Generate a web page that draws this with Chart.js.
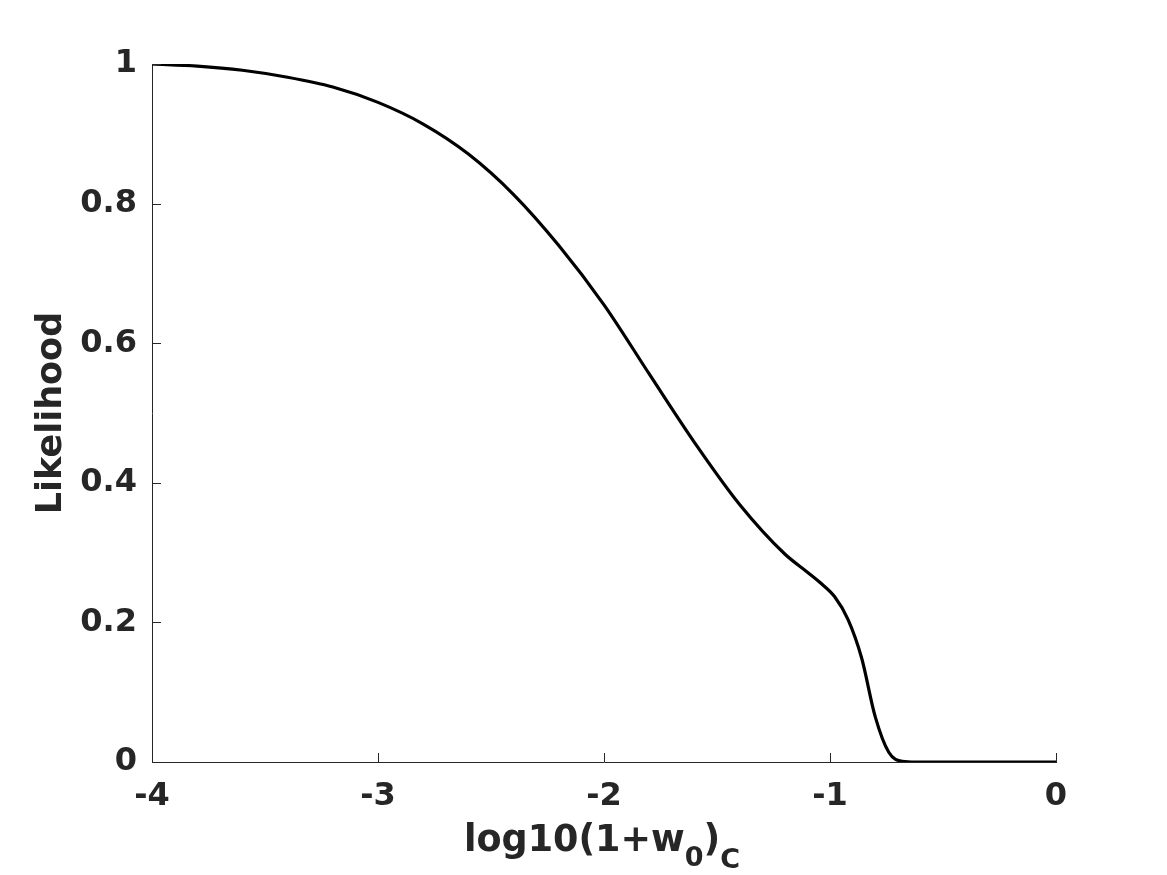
<!DOCTYPE html>
<html>
<head>
<meta charset="utf-8">
<script src="https://cdn.jsdelivr.net/npm/chart.js@4/dist/chart.umd.min.js"></script>
<style>
  html, body { margin: 0; padding: 0; background: #fff; }
  #wrap { width: 1167px; height: 875px; }
</style>
</head>
<body>
<div id="wrap"><canvas id="chart" width="1167" height="875"></canvas></div>
<script>
// values
var xs = [-4, -3.8, -3.6, -3.4, -3.2, -3.0, -2.8, -2.6, -2.4, -2.2, -2.0, -1.8, -1.6, -1.4, -1.2,
  -1.1, -1.04, -0.98, -0.92, -0.86, -0.80, -0.74, -0.68, -0.62, -0.5, 0];
var likelihood = [1.0, 0.997, 0.991, 0.981, 0.967, 0.945, 0.914, 0.871, 0.813, 0.740, 0.655, 0.556, 0.458, 0.369, 0.298,
  0.272, 0.256, 0.237, 0.204, 0.149, 0.065, 0.014, 0.001, 0, 0, 0];

var axisColor = '#262626',
  fontFamily = '"DejaVu Sans", sans-serif';

// inward tick marks plus the x title with its subscripts
var axesExtras = {
  id: 'axesExtras',
  afterDraw: function(chart) {
    var ctx = chart.ctx,
      area = chart.chartArea,
      xScale = chart.scales.x,
      yScale = chart.scales.y;

    ctx.save();
    ctx.strokeStyle = axisColor;
    ctx.lineWidth = 1;
    ctx.beginPath();
    yScale.ticks.forEach(function(t) {
      var py = Math.round(yScale.getPixelForValue(t.value)) + 0.5;
      ctx.moveTo(area.left, py);
      ctx.lineTo(area.left + 9, py);
    });
    xScale.ticks.forEach(function(t) {
      var px = Math.round(xScale.getPixelForValue(t.value)) + 0.5;
      ctx.moveTo(px, area.bottom);
      ctx.lineTo(px, area.bottom - 9);
    });
    ctx.stroke();

    var parts = [
      { text: 'log10(1+w', size: 36.5, dy: 0 },
      { text: '0', size: 27, dy: 15 },
      { text: ')', size: 36.5, dy: 0 },
      { text: 'C', size: 27, dy: 17 }
    ];
    var total = 0;
    parts.forEach(function(p) {
      ctx.font = 'bold ' + p.size + 'px ' + fontFamily;
      p.w = ctx.measureText(p.text).width;
      total += p.w;
    });
    var cx = (area.left + area.right) / 2 - 2,
      x = cx - total / 2,
      base = 851;
    ctx.fillStyle = axisColor;
    ctx.textBaseline = 'alphabetic';
    ctx.textAlign = 'left';
    parts.forEach(function(p) {
      ctx.font = 'bold ' + p.size + 'px ' + fontFamily;
      ctx.fillText(p.text, x, base + p.dy);
      x += p.w;
    });
    ctx.restore();
  }
};

var ctx = document.getElementById('chart').getContext('2d');

new Chart(ctx, {
  type: 'line',
  data: {
    datasets: [{
      data: xs.map(function(x, i) { return { x: x, y: likelihood[i] }; }),
      borderColor: '#000000',
      borderWidth: 3.2,
      pointRadius: 0,
      fill: false,
      cubicInterpolationMode: 'monotone'
    }]
  },
  options: {
    responsive: false,
    animation: false,
    layout: { padding: { top: 64, right: 111, left: 0, bottom: 0 } },
    plugins: {
      legend: { display: false },
      tooltip: { enabled: false }
    },
    scales: {
      x: {
        type: 'linear',
        min: -4,
        max: 0,
        afterFit: function(scale) { scale.height = 113; },
        ticks: {
          stepSize: 1,
          color: axisColor,
          padding: 15,
          maxRotation: 0,
          font: { family: fontFamily, size: 32, weight: 'bold' }
        },
        grid: { drawOnChartArea: false, drawTicks: false },
        border: { display: true, color: axisColor, width: 1 }
      },
      y: {
        type: 'linear',
        min: 0,
        max: 1,
        afterFit: function(scale) { scale.width = 152; },
        ticks: {
          stepSize: 0.2,
          color: axisColor,
          padding: 15,
          callback: function(v) { return String(+v.toFixed(1)); },
          font: { family: fontFamily, size: 32, weight: 'bold' }
        },
        grid: { drawOnChartArea: false, drawTicks: false },
        border: { display: true, color: axisColor, width: 1 },
        title: {
          display: true,
          text: 'Likelihood',
          color: axisColor,
          padding: { top: 31, bottom: 0 },
          font: { family: fontFamily, size: 35, weight: 'bold' }
        }
      }
    }
  },
  plugins: [axesExtras]
});
</script>
</body>
</html>
